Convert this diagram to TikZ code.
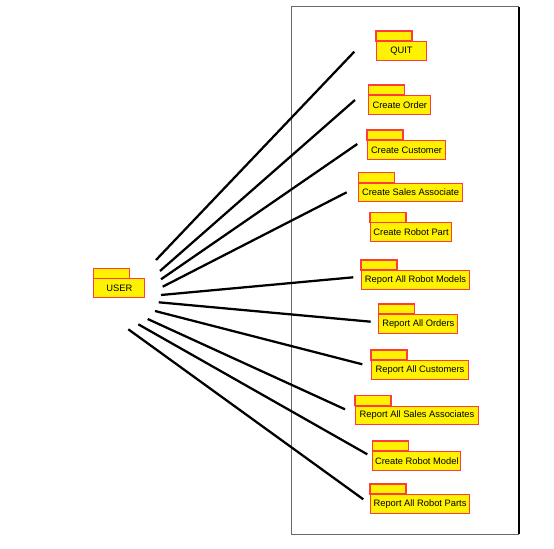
\documentclass[tikz,border=0pt]{standalone}
\usepackage{fontspec}
\setmainfont{Liberation Sans}
\definecolor{pkgred}{RGB}{255,60,60}
\definecolor{framegray}{RGB}{105,105,105}

\begin{document}
\begin{tikzpicture}[x=0.75pt,y=-0.75pt,
  pkg/.style={draw=pkgred, fill=yellow, line width=0.8pt, rectangle, anchor=north west,
    minimum width=#1*0.75pt, minimum height=13.9pt, inner sep=0pt, font=\fontsize{7}{8}\selectfont},
  tab/.style={draw=pkgred, fill=yellow, line width=0.8pt},
  link/.style={black, line width=1.7pt}]
\useasboundingbox (0,0) rectangle (554,549);
% system boundary
\draw[framegray, line width=1.1pt] (519,534.3) -- (291.7,534.3) -- (291.7,6.7) -- (519,6.7);
\draw[black, line width=1.1pt] (519,6.7) -- (519,534.3);
% packages
\foreach \n/\x/\y/\w/\t in {user/93.3/278.3/51/USER, quit/376/41/50/QUIT,
  order/368.3/95/62/Create Order, cust/367/140/78/Create Customer,
  assoc/358.3/182.7/103.4/Create Sales Associate, part/370/222.3/81/Create Robot Part,
  rmodels/361/270/108/Report All Robot Models, rorders/378.3/314/79/Report All Orders,
  rcust/371/360/97/Report All Customers, rassoc/355/405.7/123/Report All Sales Associates,
  model/372.3/451/88/Create Robot Model, rparts/370/494/99/Report All Robot Parts} {
  \draw[tab] (\x,\y) rectangle ++(36,-10);
  \node[pkg=\w] (\n) at (\x,\y) {\t};
}
% links from USER
\foreach \n/\sx/\sy/\ex/\ey in {quit/156/260/354.3/51.7, order/160/271/355/100,
  cust/161/279.3/357.3/144, assoc/162.7/286.7/346.7/192.3, rmodels/161/295/353.3/277.3,
  rorders/158.7/302.3/370.7/321.7, rcust/155/311/362.3/364.3, rassoc/147.7/319/345/409.3,
  model/138.3/324.3/367.3/454.3, rparts/128.3/329.3/363.3/499.3} {
  \coordinate (from-\n) at (\sx,\sy);
  \coordinate (to-\n) at (\ex,\ey);
  \draw[link] (from-\n) -- (to-\n);
}
\end{tikzpicture}
\end{document}
